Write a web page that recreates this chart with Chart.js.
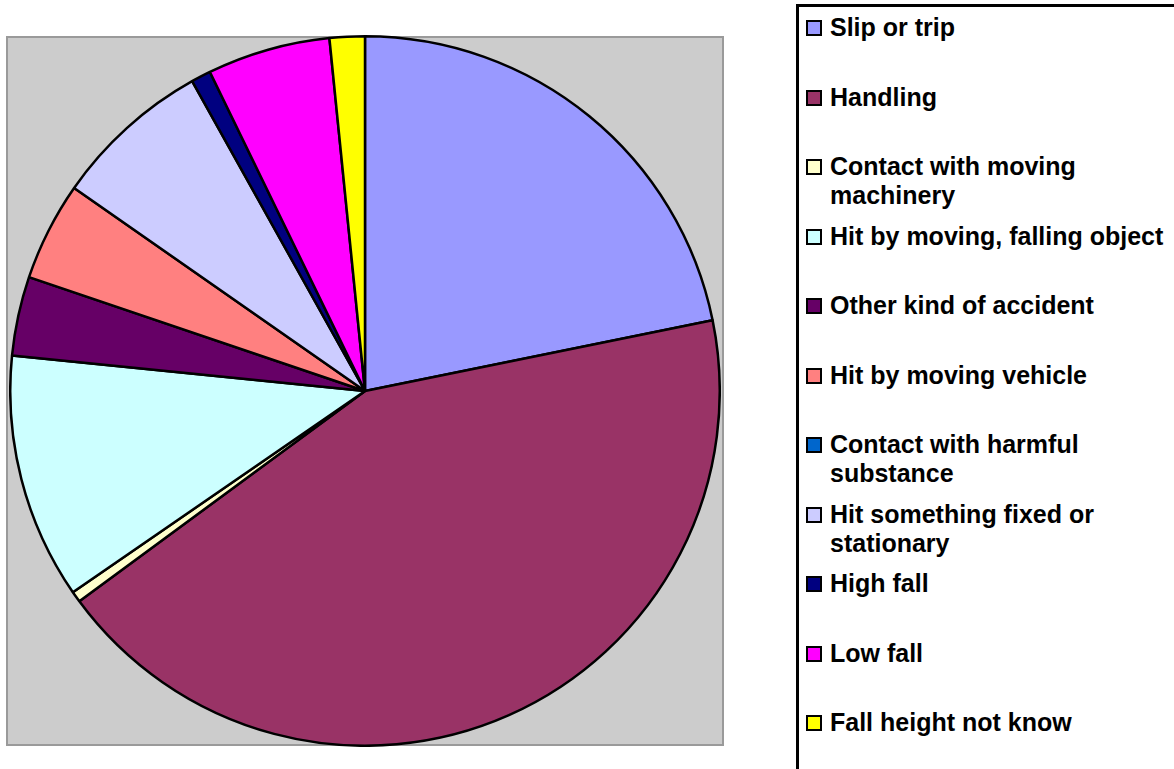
<!DOCTYPE html>
<html>
<head>
<meta charset="utf-8">
<script src="https://cdn.jsdelivr.net/npm/chart.js@4/dist/chart.umd.min.js"></script>
<style>
  html, body { margin: 0; padding: 0; background: #fff; }
  body { width: 1174px; height: 769px; position: relative; overflow: hidden; font-family: "Liberation Sans", Arial, sans-serif; }
  #plot { position: absolute; left: 6px; top: 36px; width: 714px; height: 706px; background: #cccccc; border: 2px solid #9a9a9a; }
  #plot canvas { position: absolute; left: 1px; top: -3px; }
  #legend { position: absolute; left: 796px; top: 4px; width: 420px; height: 800px; border: 3px solid #000; }
  .item { position: absolute; left: 0; }
  .box { position: absolute; left: 7px; width: 12px; height: 12px; border: 2.5px solid #000; }
  .txt { position: absolute; left: 31px; width: 360px; font-weight: bold; font-size: 25px; line-height: 29px; color: #000; white-space: nowrap; }
</style>
</head>
<body>
<div id="plot"><canvas id="pie" width="712" height="712"></canvas></div>
<div id="legend"></div>
<script>
// Accident kinds, clockwise from 12 o'clock (values in %)
const labels = [
  'Slip or trip',
  'Handling',
  'Contact with moving machinery',
  'Hit by moving, falling object',
  'Other kind of accident',
  'Hit by moving vehicle',
  'Contact with harmful substance',
  'Hit something fixed or stationary',
  'High fall',
  'Low fall',
  'Fall height not know'
];
const legendLines = [
  ['Slip or trip'],
  ['Handling'],
  ['Contact with moving', 'machinery'],
  ['Hit by moving, falling object'],
  ['Other kind of accident'],
  ['Hit by moving vehicle'],
  ['Contact with harmful', 'substance'],
  ['Hit something fixed or', 'stationary'],
  ['High fall'],
  ['Low fall'],
  ['Fall height not know']
];
const values = [21.8, 43.1, 0.5, 11.2, 3.6, 4.5, 0, 7.2, 0.9, 5.6, 1.6];
const colors = ['#9999FF', '#993366', '#FFFFCC', '#CCFFFF', '#660066', '#FF8080',
                '#0066CC', '#CCCCFF', '#000080', '#FF00FF', '#FFFF00'];

new Chart(document.getElementById('pie'), {
  type: 'pie',
  data: {
    labels: labels,
    datasets: [{
      data: values,
      backgroundColor: colors,
      borderColor: '#000',
      borderWidth: 2.5
    }]
  },
  options: {
    responsive: false,
    animation: false,
    layout: { padding: 0 },
    plugins: {
      legend: { display: false },
      tooltip: { enabled: false }
    }
  }
});

// legend on the right, built from the same arrays
const legend = document.getElementById('legend');
legendLines.forEach((lines, i) => {
  const top = 13 + i * 69.5;
  const item = document.createElement('div');
  item.className = 'item';
  item.style.top = top + 'px';
  item.innerHTML = `<div class="box" style="background:${colors[i]}"></div>` +
    `<div class="txt" style="top:-7px">${lines.join('<br>')}</div>`;
  legend.appendChild(item);
});
</script>
</body>
</html>
